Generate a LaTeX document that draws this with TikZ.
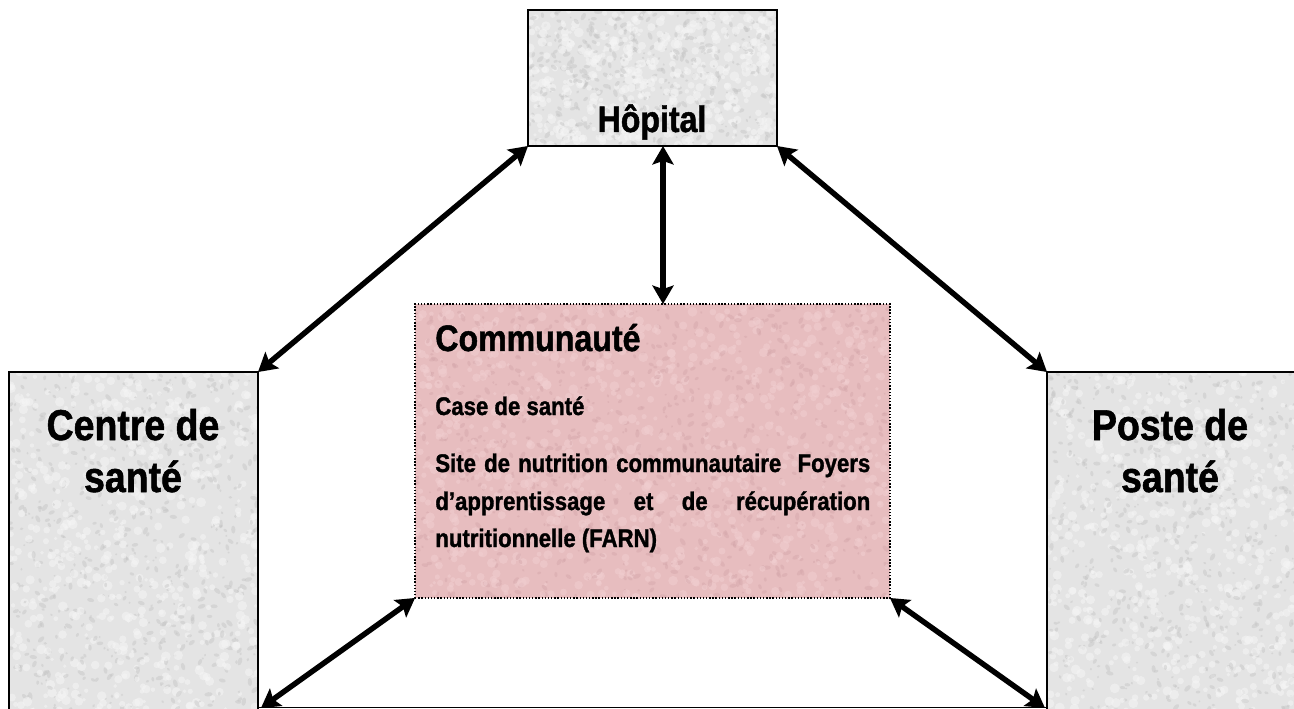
\documentclass[tikz,border=0pt]{standalone}
\usepackage{fontspec}
\setmainfont{Liberation Sans}[FakeStretch=0.87, BoldFeatures={FakeBold=1.3}]
\usetikzlibrary{arrows.meta,backgrounds,calc}

\definecolor{stone}{RGB}{228,228,228}
\definecolor{stonedark}{RGB}{196,196,196}
\definecolor{stonelight}{RGB}{246,246,246}
\definecolor{rose}{RGB}{231,189,191}
\definecolor{rosedark}{RGB}{212,166,170}
\definecolor{roselight}{RGB}{241,206,208}

% granite-like fill of a rectangle: x0,y0,x1,y1,base,dark,light,count
\newcommand\texturefill[8]{%
  \begin{scope}
    \clip (#1,#2) rectangle (#3,#4);
    \fill[#5] (#1,#2) rectangle (#3,#4);
    \foreach \k in {1,...,#8}{%
      \pgfmathsetmacro\px{#1+rnd*(#3-#1)}%
      \pgfmathsetmacro\py{#2+rnd*(#4-#2)}%
      \pgfmathsetmacro\rr{0.6+1.8*rnd}%
      \pgfmathsetmacro\ry{0.4*\rr+0.3}%
      \pgfmathsetmacro\rot{360*rnd}%
      \fill[#6, opacity=0.45, rotate around={\rot:(\px,\py)}] (\px,\py) ellipse ({\rr pt} and {\ry pt});
      \pgfmathsetmacro\qx{#1+rnd*(#3-#1)}%
      \pgfmathsetmacro\qy{#2+rnd*(#4-#2)}%
      \pgfmathsetmacro\rs{1.0+1.8*rnd}%
      \fill[#7, opacity=0.55] (\qx,\qy) circle ({\rs pt});
    }
  \end{scope}}

\begin{document}
\begin{tikzpicture}[x=0.02cm, y=-0.02cm,
  box/.style={draw=black, line width=0.9pt, inner sep=0pt, outer sep=0pt},
  combox/.style={draw=black, line width=0.8pt, densely dotted, inner sep=0pt, outer sep=0pt},
  link/.style={line width=3.1pt,
    {Stealth[length=10.5pt,width=12pt,inset=2pt]}-{Stealth[length=10.5pt,width=12pt,inset=2pt]}},
  title/.style={font=\fontsize{21}{25}\selectfont\bfseries, inner sep=0pt, anchor=base},
  side/.style={font=\fontsize{24.5}{29}\selectfont\bfseries, inner sep=0pt, anchor=base},
  item/.style={font=\fontsize{14.5}{21}\selectfont\bfseries, inner sep=0pt, anchor=base west}]
\useasboundingbox (0,0) rectangle (1294,709);
\pgfmathsetseed{7}

% boxes
\node[box, minimum width=4.98cm, minimum height=2.72cm] (hop) at (652.5,78) {};
\node[combox, minimum width=9.5cm, minimum height=5.88cm] (com) at (652.5,451) {};
\node[box, minimum width=4.98cm, minimum height=6.96cm] (cen) at (133.5,546) {};
\node[box, minimum width=5.06cm, minimum height=6.96cm] (pos) at (1173.5,546) {};

\begin{pgfonlayer}{background}
  \texturefill{528}{10}{777}{146}{stone}{stonedark}{stonelight}{450}
  \texturefill{415}{304}{890}{598}{rose}{rosedark}{roselight}{900}
  \texturefill{9}{372}{258}{720}{stone}{stonedark}{stonelight}{600}
  \texturefill{1047}{372}{1300}{720}{stone}{stonedark}{stonelight}{600}
\end{pgfonlayer}

% labels
\node[title] (hoptext) at (652,132) {Hôpital};

\node[title, anchor=base west] (comtitle) at (435,351) {Communauté};
\node[item] (case) at (435,415) {Case de santé};
\node[item] (site1) at (435,472) {\makebox[8.7cm][s]{Site de nutrition communautaire\ \ Foyers}};
\node[item] (site2) at (435,510) {\makebox[8.7cm][s]{d’apprentissage et de récupération}};
\node[item] (site3) at (435,547) {nutritionnelle (FARN)};

\node[side] (centxt1) at (133,440) {Centre de};
\node[side] (centxt2) at (133,492) {santé};
\node[side] (postxt1) at (1170,440) {Poste de};
\node[side] (postxt2) at (1170,492) {santé};

% connectors
\coordinate (vx) at (663,0);
\coordinate (b1) at (258,707.5);
\coordinate (b2) at (1047,707.5);
\coordinate (t1) at (261,708);
\coordinate (t2) at (1045,708);

\draw[link] (hop.south west) -- (cen.north east);
\draw[link] (hop.south east) -- (pos.north west);
\draw[link] (hop.south -| vx) -- (com.north -| vx);
\draw[link] (com.south west) -- (t1);
\draw[link] (com.south east) -- (t2);
\draw[line width=0.8pt] (b1) -- (b2);
\end{tikzpicture}
\end{document}
